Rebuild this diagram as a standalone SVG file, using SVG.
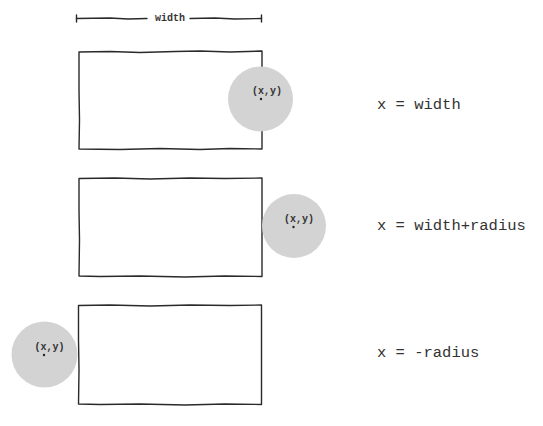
<svg xmlns="http://www.w3.org/2000/svg" width="543" height="426" viewBox="0 0 543 426">
<style>
.edge{fill:none;stroke:#2a2a2a;stroke-width:1.4;stroke-linejoin:round;stroke-linecap:round}
.ball{fill:#d3d3d3;stroke:none}
.pt{font-family:"Liberation Mono","DejaVu Sans Mono",monospace;font-size:10px;font-weight:bold;fill:#333}
.dot{fill:#222}
.lbl{font-family:"Liberation Mono","DejaVu Sans Mono",monospace;font-size:15.5px;fill:#333}
.dim{font-family:"Liberation Mono","DejaVu Sans Mono",monospace;font-size:10px;font-weight:bold;fill:#333}
</style>
<rect width="543" height="426" fill="#ffffff"/>
<g id="dimension">
<path class="edge" d="M76.5,18.5 L110,18 L128,19 L147,18.5"/>
<path class="edge" d="M190,18.5 L215,18 L235,19 L261.5,18.5"/>
<path class="edge" d="M76.5,15 L76.5,22 M261.5,15 L261.5,22"/>
<text class="dim" x="170" y="21" text-anchor="middle">width</text>
</g>
<g id="case1">
<path class="edge" d="M79,52 L110,51.5 L140,52.5 L175,51.5 L200,51 L230,52 L262,51 L262,149 L230,148.5 L200,149.5 L160,148.5 L120,149.5 L79,149 L79.5,120 L79,90 L79,52 Z"/>
<circle class="ball" cx="260.5" cy="99" r="32.5"/>
<text class="pt" x="267" y="94" text-anchor="middle">(x,y)</text>
<circle class="dot" cx="261" cy="99" r="1.2"/>
<text class="lbl" x="377" y="109">x = width</text>
</g>
<g id="case2">
<path class="edge" d="M79,178.5 L115,178 L150,179 L190,178 L225,178.5 L262,178 L262,276.5 L225,276 L185,277 L140,276 L100,276.5 L79,276 L79.5,240 L79,210 L79,178.5 Z"/>
<circle class="ball" cx="294" cy="226" r="32"/>
<text class="pt" x="299" y="222" text-anchor="middle">(x,y)</text>
<circle class="dot" cx="293.5" cy="227" r="1.2"/>
<text class="lbl" x="377" y="230">x = width+radius</text>
</g>
<g id="case3">
<circle class="ball" cx="44.5" cy="354.5" r="33"/>
<path class="edge" d="M78.5,305.5 L110,305 L150,306 L190,305 L230,305.5 L261.5,305 L261.5,404.5 L225,404 L185,405 L140,404 L100,404.5 L78.5,404 L79,370 L78.5,340 L78.5,305.5 Z"/>
<text class="pt" x="49.5" y="350" text-anchor="middle">(x,y)</text>
<circle class="dot" cx="44" cy="355" r="1.2"/>
<text class="lbl" x="377" y="357">x = -radius</text>
</g>
</svg>
